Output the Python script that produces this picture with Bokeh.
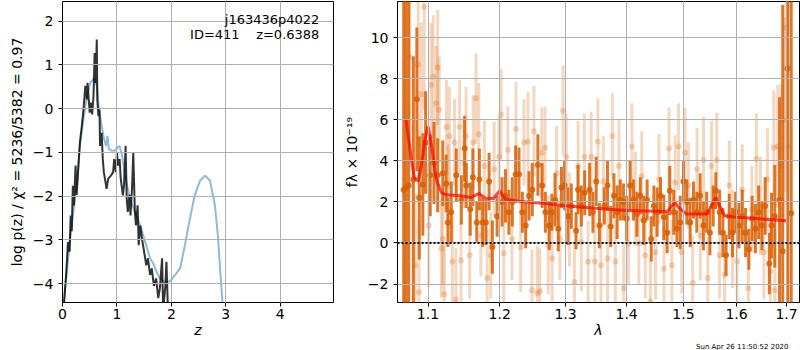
import numpy as np
from bokeh.plotting import figure
from bokeh.layouts import row
from bokeh.models import Range1d, FixedTicker, CustomJSTickFormatter, Label, ColumnDataSource, Span, Title
from bokeh.embed import file_html
from bokeh.resources import INLINE

# ---------------- left panel: log p(z) ----------------
z_fit = [0.0, 0.02, 0.08, 0.14, 0.2, 0.275, 0.32, 0.385, 0.45, 0.51, 0.58, 0.63, 0.67, 0.72, 0.765,
         0.8, 0.826, 0.85, 0.905, 0.966, 1.03, 1.05, 1.09, 1.15, 1.24, 1.33, 1.43, 1.52, 1.61, 1.67,
         1.73, 1.79, 1.88, 1.98, 2.07, 2.16, 2.25, 2.34, 2.43, 2.53, 2.62, 2.71, 2.8, 2.86, 2.9, 2.94, 2.98]
lnp_fit = [-6, -4.43, -3.73, -2.97, -2.36, -1.6, -0.85, -0.24, 0.29, 0.59, 0.70, 0.52, -0.02, -0.39, -0.7,
           -0.85, -0.62, -0.92, -0.96, -0.96, -0.86, -0.86, -1.04, -1.53, -2.06, -2.36, -2.67, -3.05, -3.42, -3.54,
           -3.73, -3.88, -3.97, -3.94, -3.8, -3.65, -3.12, -2.52, -1.98, -1.64, -1.53, -1.64, -2.2, -2.97, -3.73, -4.43, -6]

z_chi = [0.0, 0.02, 0.07, 0.10, 0.13, 0.15, 0.17, 0.19, 0.21, 0.24, 0.26, 0.30, 0.32, 0.355, 0.385, 0.42,
         0.45, 0.46, 0.50, 0.52, 0.545, 0.57, 0.59, 0.61, 0.63, 0.64, 0.66, 0.68, 0.69, 0.72, 0.74, 0.76,
         0.79, 0.81, 0.84, 0.89, 0.93, 0.95, 0.98, 1.00, 1.02, 1.05, 1.07, 1.11, 1.13, 1.16, 1.18, 1.20,
         1.23, 1.25, 1.28, 1.30, 1.33, 1.35, 1.38, 1.40, 1.43, 1.46, 1.50, 1.54, 1.57, 1.61, 1.64, 1.68,
         1.72, 1.76, 1.79, 1.83, 1.85, 1.89, 1.91, 1.94, 1.97]
lnp_chi = [-6, -4.6, -3.73, -3.05, -3.27, -2.44, -2.8, -1.76, -2.21, -1.3, -1.97, -1.15, -0.77, -0.39, -0.02, 0.52,
           0.21, 0.59, -0.09, 0.14, -0.13, 0.29, 1.27, 0.59, 1.58, 0.21, -0.17, -0.02, -0.85, -0.55, -1.15, -1.45,
           -1.68, -1.83, -1.6, -1.53, -1.45, -1.15, -1.45, -1.0, -1.3, -1.15, -1.6, -1.98, -1.76, -0.85, -2.06, -2.36,
           -1.97, -2.44, -1.76, -1.0, -2.36, -2.67, -2.21, -3.12, -2.67, -2.97, -3.27, -3.58, -3.42, -3.8, -3.65, -4.05,
           -3.88, -4.33, -4.1, -3.42, -4.6, -4.05, -3.5, -4.7, -6]

z_ticks = [0, 1, 2, 3, 4]
lnp_ticks = [-4, -3, -2, -1, 0, 1, 2]

# ---------------- right panel: spectrum ----------------
lam_d = [1.0680, 1.0710, 1.0745, 1.0806, 1.0852, 1.0884, 1.0931, 1.0968, 1.1030, 1.1080, 1.1130,
         1.1199, 1.1245, 1.1269, 1.1315, 1.1384, 1.1454, 1.1500, 1.1523, 1.1579, 1.1616,
         1.1671, 1.1708, 1.1755, 1.1801, 1.1847, 1.1894, 1.1963, 1.2035, 1.2085, 1.2135,
         1.2185, 1.2235, 1.2285, 1.2335, 1.2385, 1.2435, 1.2485, 1.2570, 1.2635, 1.2685,
         1.2745, 1.2785, 1.2835, 1.2885, 1.2935, 1.2985, 1.3037, 1.3091, 1.3166, 1.3198,
         1.3251, 1.3305, 1.3385, 1.3439, 1.3492, 1.3545, 1.3626, 1.3679, 1.3733, 1.3786,
         1.3840, 1.3893, 1.3946, 1.4000, 1.4059, 1.4118, 1.4176, 1.4235, 1.4294, 1.4353,
         1.4424, 1.4471, 1.4529, 1.4588, 1.4647, 1.4706, 1.4753, 1.4824, 1.4882, 1.4941,
         1.5000, 1.5061, 1.5123, 1.5184, 1.5245, 1.5307, 1.5368, 1.5429, 1.5490, 1.5552,
         1.5601, 1.5674, 1.5736, 1.5797, 1.5859, 1.5920, 1.5982, 1.6045, 1.6110, 1.6175,
         1.6240, 1.6305, 1.6370, 1.6435, 1.6500, 1.6565, 1.6649, 1.6694, 1.6760, 1.6857,
         1.6922, 1.7020, 1.7097]
flux_d = [2.6, 2.7, 2.8, 3.1, 7.0, 2.2, 2.85, 4.9, 3.3, 3.9, 3.3,
          3.4, 2.9, 1.0, 1.5, 3.3, 2.1, 4.6, 2.8, 1.65, 3.2,
          1.0, 3.1, 1.0, 1.0, 3.0, -0.2, 1.3, 2.0, 2.3, 1.5,
          2.0, 3.35, 3.35, 1.5, 0.85, 2.3, 2.6, 3.8, 2.8, 1.5,
          0.85, 1.5, 2.1, 0.7, 2.7, 2.8, 1.3, 1.8, 0.6, 2.6,
          1.8, 2.45, 2.6, 1.5, 3.0, 0.85, 1.8, 2.8, 0.8, 2.3,
          1.5, 2.1, 2.0, 1.2, 2.8, 2.1, 1.4, 2.3, 1.1, 2.1,
          0.2, 1.8, 1.5, 2.3, 1.25, 0.5, 2.55, 1.5, 0.7, 1.0,
          3.0, 2.0, 1.0, 2.1, 1.5, 2.3, 0.85, 1.5, 0.5, 1.8,
          2.55, 1.5, 0.5, -0.6, 1.3, 0.5, 1.5, 0.85, 1.3, 0.5,
          -0.3, 1.2, 0.7, 1.5, 0.85, 1.8, -1.0, 0.85, 1.3, 2.1,
          -0.4, 8.5, 1.45]
err_d = [15, 15, 15, 6, 3.5, 3.0, 2.5, 2.5, 2.0, 2.0, 1.8,
         1.6, 1.4, 1.2, 1.5, 1.3, 1.2, 1.6, 1.1, 1.3, 1.4,
         1.0, 1.5, 1.2, 1.1, 1.4, 1.3, 1.0, 1.2, 1.3, 1.1,
         1.2, 1.4, 1.3, 1.0, 1.1, 1.2, 1.3, 1.5, 1.1, 1.0,
         1.2, 0.9, 1.3, 1.1, 1.0, 1.2, 1.4, 1.1, 0.9, 1.2,
         1.0, 1.1, 1.3, 1.0, 1.2, 1.1, 0.9, 1.2, 1.0, 1.1,
         1.3, 1.0, 0.9, 1.1, 1.2, 1.0, 1.1, 0.9, 1.2, 1.0,
         1.1, 1.0, 1.2, 0.9, 1.1, 1.0, 1.2, 1.1, 0.9, 1.3,
         1.0, 1.1, 1.2, 0.9, 1.0, 1.1, 1.2, 1.0, 1.1, 1.0,
         0.9, 1.1, 1.2, 1.0, 1.1, 1.2, 1.0, 1.1, 1.3, 1.2,
         1.0, 1.1, 1.2, 1.3, 1.2, 1.4, 1.5, 1.6, 2.5, 5.0,
         12, 12, 15]

lam_l = [1.076, 1.083, 1.087, 1.088, 1.091, 1.095, 1.101, 1.104, 1.107, 1.111,
         1.113, 1.115, 1.118, 1.120, 1.122, 1.125, 1.127, 1.129, 1.133, 1.136,
         1.138, 1.143, 1.145, 1.149, 1.152, 1.157, 1.162, 1.166, 1.170, 1.173,
         1.178, 1.182, 1.187, 1.192, 1.199, 1.202, 1.206, 1.212, 1.218, 1.224,
         1.231, 1.236, 1.242, 1.248, 1.251, 1.256, 1.260, 1.263, 1.268, 1.273,
         1.279, 1.286, 1.291, 1.296, 1.301, 1.306, 1.314, 1.320, 1.325, 1.330,
         1.336, 1.341, 1.347, 1.352, 1.357, 1.361, 1.368, 1.376, 1.381, 1.387,
         1.395, 1.403, 1.409, 1.415, 1.421, 1.426, 1.432, 1.441, 1.450, 1.456,
         1.465, 1.474, 1.479, 1.485, 1.491, 1.497, 1.503, 1.509, 1.517, 1.525,
         1.531, 1.537, 1.545, 1.552, 1.562, 1.567, 1.577, 1.586, 1.592, 1.601,
         1.611, 1.623, 1.630, 1.639, 1.647, 1.654, 1.661, 1.667, 1.674, 1.676,
         1.682, 1.689, 1.695, 1.699, 1.704]
flux_l = [9.05, -1.08, 8.7, -2.4, 7.25, 11.5, 0.85, 7.7, 8.1, 6.8,
          8.55, 6.5, -0.27, 0.2, -2.5, 5.65, 2.8, 5.2, -0.9, 4.9,
          -2.75, 5.65, -0.85, 3.9, 5.2, -0.6, 4.9, 7.05, 5.3, 0.37,
          3.75, -1.7, -0.6, 3.6, 4.2, 6.25, -0.5, 4.55, 0.2, 5.55,
          -0.2, 4.9, 4.95, -2.3, 5.45, -2.45, -2.35, 4.4, 4.65, -0.1,
          -0.75, 3.4, 0.2, 6.45, 4.2, 1.15, -1.9, 3.75, 0.05, 4.2,
          -0.9, 4.2, -0.9, 4.95, -1.08, 3.0, -0.75, 5.2, -0.9, 3.75,
          -2.2, -0.03, 4.7, 2.15, -0.03, 3.25, -0.6, -2.85, -0.45, 3.1,
          -1.25, 4.6, -1.08, 2.95, 4.7, -0.45, 4.4, 2.8, -1.95, 3.6,
          0.37, 4.05, -1.7, 3.75, 4.05, -0.6, -1.55, 2.8, 0.2, -0.9,
          2.6, -2.2, 1.65, 4.1, 1.8, -0.45, 3.1, -1.4, 4.65, -2.3,
          4.7, 3.75, 6.0, 10.5, 4.7]
err_l = [5, 3.5, 4, 3.5, 3.5, 5, 3, 3, 3, 2.8, 2.8, 2.6,
         2.4, 2.2, 2.5, 2.3, 2.0, 2.4, 2.2, 2.1, 2.5, 2.3,
         2.0, 2.2, 2.4, 2.1, 2.3, 2.2, 2.5, 2.0, 2.2, 2.4,
         2.1, 2.3, 2.0, 2.2, 2.4, 2.1, 2.0, 2.3, 2.2, 2.1,
         2.4, 2.0, 2.2, 2.3, 2.1, 2.2, 2.0, 2.4, 2.1, 2.3,
         2.0, 2.2, 2.1, 2.3, 2.0, 2.2, 2.4, 2.1, 2.0, 2.2,
         2.3, 2.1, 2.0, 2.2, 2.4, 2.1, 2.0, 2.3, 2.2, 2.0,
         2.1, 2.3, 2.0, 2.2, 2.1, 2.0, 2.3, 2.2, 2.1, 2.0,
         2.2, 2.3, 2.1, 2.0, 2.2, 2.1, 2.3, 2.0, 2.2, 2.1,
         2.0, 2.2, 2.3, 2.1, 2.0, 2.2, 2.4, 2.1, 2.2, 2.3,
         2.1, 2.2, 2.4, 2.3, 2.5,
         2.6, 2.8, 3.0, 3.0, 4.0, 5.0, 8.0, 8.0]

lam_m = [1.071, 1.078, 1.082, 1.087, 1.091, 1.096, 1.100, 1.105, 1.111, 1.118,
         1.125, 1.143, 1.159, 1.170, 1.180, 1.191, 1.200, 1.208, 1.228, 1.268,
         1.300, 1.347, 1.400, 1.471, 1.479, 1.485, 1.491, 1.506, 1.543, 1.552,
         1.560, 1.567, 1.577, 1.600, 1.650, 1.700]
flux_m = [6.0, 4.07, 3.18, 3.02, 3.75, 5.03, 5.68, 4.71, 3.1, 2.46,
          2.35, 2.3, 2.22, 2.41, 2.17, 2.17, 2.54, 2.14, 2.04, 1.93,
          1.82, 1.69, 1.58, 1.53, 1.82, 1.95, 1.74, 1.41, 1.41, 1.82,
          2.22, 1.82, 1.33, 1.25, 1.17, 1.09]

lam_ticks = [1.1, 1.2, 1.3, 1.4, 1.5, 1.6, 1.7]
flux_ticks = [-2, 0, 2, 4, 6, 8, 10]

FONT = "DejaVu Sans"
minus_fmt = CustomJSTickFormatter(code="return String(tick).replace('-', '\u2212')")


def style(p):
    p.outline_line_color = "black"
    p.outline_line_width = 1
    p.outline_line_alpha = 1
    p.background_fill_color = "white"
    p.border_fill_color = "white"
    for g in (p.xgrid, p.ygrid):
        g.grid_line_color = "#b0b0b0"
        g.grid_line_width = 1
        g.level = "guide"
    for ax in (p.xaxis, p.yaxis):
        ax.axis_line_color = None
        ax.major_tick_in = 0
        ax.major_tick_out = 4
        ax.minor_tick_out = 0
        ax.minor_tick_in = 0
        ax.major_tick_line_color = "black"
        ax.major_label_text_font = FONT
        ax.major_label_text_font_size = "14px"
        ax.major_label_text_color = "black"
        ax.axis_label_text_font = FONT
        ax.axis_label_text_font_size = "14px"
        ax.axis_label_text_color = "black"
        ax.axis_label_text_font_style = "normal"
    p.xaxis.major_label_standoff = 2
    p.xaxis.axis_label_standoff = 0


BOTTOM = 47

# left figure
p1 = figure(width=340, height=350, output_backend="svg", toolbar_location=None,
            x_range=Range1d(0, 4.98), y_range=Range1d(-4.43, 2.45),
            min_border_left=62, min_border_right=7, min_border_top=1, min_border_bottom=BOTTOM)
style(p1)
p1.xaxis.ticker = FixedTicker(ticks=z_ticks)
p1.yaxis.ticker = FixedTicker(ticks=lnp_ticks)
p1.yaxis.formatter = minus_fmt
p1.xaxis.axis_label = "z"
p1.xaxis.axis_label_text_font_style = "italic"
p1.yaxis.axis_label = "log p(z) / χ² = 5236/5382 = 0.97"
p1.line(z_fit, lnp_fit, line_color="#1f77b4", line_alpha=0.5, line_width=2)
p1.line(z_chi, lnp_chi, line_color="black", line_alpha=0.8, line_width=2)
p1.add_layout(Label(x=4.72, y=2.22, text="j163436p4022", text_align="right", text_baseline="top",
                    text_font=FONT, text_font_size="13px", text_color="black"))
p1.add_layout(Label(x=4.72, y=1.87, text="ID=411\u00a0\u00a0\u00a0\u00a0z=0.6388", text_align="right",
                    text_baseline="top", text_font=FONT, text_font_size="13px", text_color="black"))

# right figure
p2 = figure(width=460, height=350, output_backend="svg", toolbar_location=None,
            x_axis_type="log", x_range=Range1d(1.06, 1.727), y_range=Range1d(-2.9, 11.77),
            min_border_left=51, min_border_right=1, min_border_top=1, min_border_bottom=BOTTOM)
style(p2)
p2.xaxis.ticker = FixedTicker(ticks=lam_ticks)
p2.xaxis.formatter = CustomJSTickFormatter(code="return tick.toFixed(1)")
p2.yaxis.ticker = FixedTicker(ticks=flux_ticks)
p2.yaxis.formatter = minus_fmt
p2.xaxis.axis_label = "λ"
p2.xaxis.axis_label_text_font_style = "italic"
p2.yaxis.axis_label = "fλ × 10⁻¹⁹"

ld = np.array(lam_d); fd = np.array(flux_d); ed = np.array(err_d)
ll = np.array(lam_l); fl = np.array(flux_l); el = np.array(err_l)
src_l = ColumnDataSource(dict(x=ll, y=fl, lo=fl - el, hi=fl + el))
src_d = ColumnDataSource(dict(x=ld, y=fd, lo=fd - ed, hi=fd + ed))

p2.segment(x0="x", y0="lo", x1="x", y1="hi", source=src_l, line_color="#d95f02", line_alpha=0.25, line_width=3)
p2.scatter(x="x", y="y", source=src_l, size=6, fill_color="#d95f02", fill_alpha=0.25, line_color=None)
p2.segment(x0="x", y0="lo", x1="x", y1="hi", source=src_d, line_color="#d95f02", line_alpha=0.85, line_width=3)
p2.scatter(x="x", y="y", source=src_d, size=6, fill_color="#d95f02", fill_alpha=0.85, line_color=None)
p2.line(lam_m, flux_m, line_color="red", line_alpha=0.7, line_width=3)
p2.add_layout(Span(location=0, dimension="width", line_color="black", line_dash="2 2", line_width=2))

stamp = Title(text="Sun Apr 26 11:50:52 2020", align="right", offset=11, standoff=0,
              text_font=FONT, text_font_size="7px", text_font_style="normal", text_color="black")
p2.add_layout(stamp, "below")

layout = row(p1, p2)
open("out.html", "w").write(file_html(layout, INLINE))
